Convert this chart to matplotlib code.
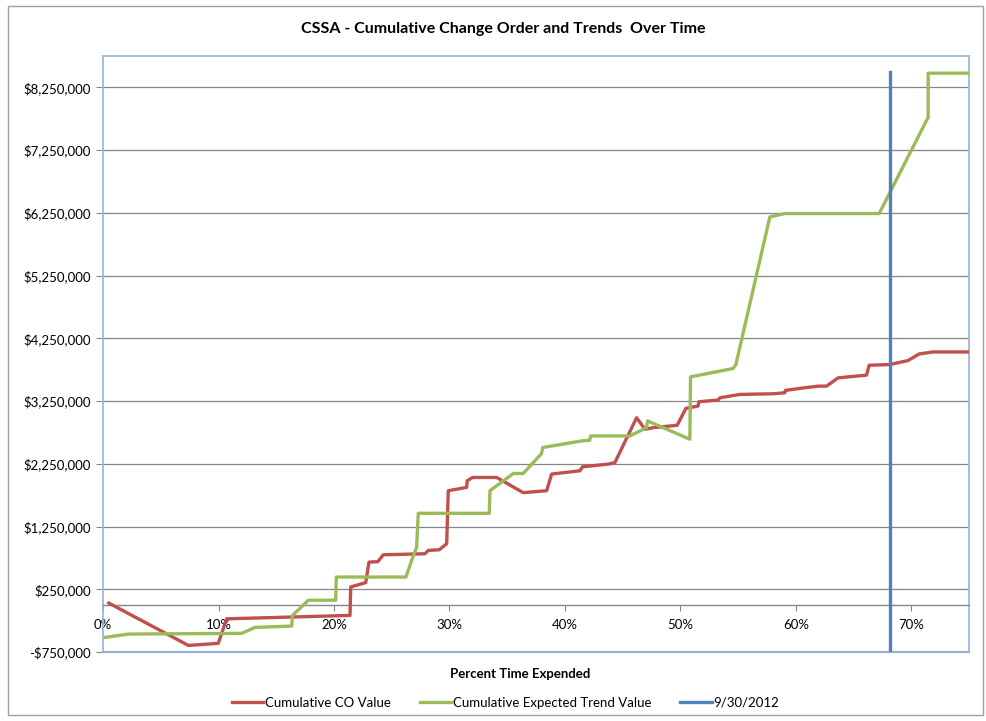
import matplotlib.pyplot as plt
from matplotlib.patches import Rectangle
from matplotlib.ticker import FuncFormatter, MultipleLocator

plt.rcParams['font.family'] = ['Lato', 'DejaVu Sans']

# cumulative change order value vs. percent of time expended
co_pct = [0.005, 0.0739, 0.0998, 0.107, 0.2139, 0.2145, 0.2275, 0.2303, 0.238, 0.2427,
          0.2788, 0.2816, 0.2912, 0.2976, 0.299, 0.3149, 0.3154, 0.3201, 0.3409, 0.3639,
          0.3842, 0.3885, 0.413, 0.4153, 0.4375, 0.4433, 0.4621, 0.4693, 0.4765, 0.4972,
          0.5048, 0.5154, 0.516, 0.5327, 0.5342, 0.5515, 0.5804, 0.5905, 0.591, 0.6035,
          0.6193, 0.6266, 0.6366, 0.6612, 0.6635, 0.6814, 0.6972, 0.7068, 0.7189, 0.75]
co_value = [30000, -645000, -612000, -221000, -167000, 287000, 356000, 683000, 690000, 800000,
            816000, 869000, 880000, 975000, 1821000, 1874000, 1980000, 2032000, 2032000, 1790000,
            1821000, 2086000, 2139000, 2202000, 2245000, 2270000, 2985000, 2800000, 2826000, 2864000,
            3134000, 3171000, 3239000, 3266000, 3302000, 3356000, 3366000, 3382000, 3420000, 3452000,
            3488000, 3488000, 3620000, 3663000, 3821000, 3832000, 3896000, 4001000, 4033000, 4033000]

# cumulative expected trend value
trend_pct = [0.0017, 0.022, 0.12, 0.1316, 0.1634, 0.164, 0.1778, 0.2015, 0.202, 0.2623,
             0.2673, 0.2716, 0.273, 0.3345, 0.3351, 0.3553, 0.3639, 0.3798, 0.3807, 0.4145,
             0.4216, 0.4222, 0.4563, 0.4707, 0.4716, 0.5082, 0.5088, 0.5457, 0.5481, 0.5775,
             0.5905, 0.6722, 0.7146, 0.7146, 0.75]
trend_value = [-517000, -464000, -453000, -358000, -337000, -168000, 75000, 75000, 445000, 445000,
               710000, 921000, 1461000, 1461000, 1821000, 2096000, 2096000, 2413000, 2509000, 2615000,
               2626000, 2694000, 2694000, 2826000, 2933000, 2642000, 3636000, 3769000, 3833000, 6186000,
               6239000, 6239000, 7774000, 8477000, 8477000]

# status date marker
status_pct = [0.6814, 0.6814]
status_value = [-750000, 8500000]

frame_color = '#95B3D7'
grid_color = '#868686'

fig = plt.figure(figsize=(9.87, 7.21), dpi=100)
ax = fig.add_axes([0.1044, 0.0957, 0.8774, 0.8266])

ax.plot(co_pct, co_value, color='#C0504D', lw=2.4, label='Cumulative CO Value', zorder=3)
ax.plot(trend_pct, trend_value, color='#9BBB59', lw=2.4, label='Cumulative Expected Trend Value', zorder=3)
ax.plot(status_pct, status_value, color='#4F81BD', lw=2.4, label='9/30/2012', zorder=4)

ax.set_xlim(0, 0.75)
ax.set_ylim(-750000, 8750000)
ax.yaxis.set_major_locator(MultipleLocator(1000000, offset=250000))
ax.xaxis.set_major_locator(MultipleLocator(0.1))


def money(v, pos):
    if v < 0:
        return '-${:,.0f}'.format(abs(v))
    return '${:,.0f}'.format(v)


ax.yaxis.set_major_formatter(FuncFormatter(money))
ax.xaxis.set_major_formatter(FuncFormatter(lambda v, p: '{:.0f}%'.format(v * 100)))

ax.grid(axis='y', color=grid_color, lw=0.9)
ax.set_axisbelow(True)

# x axis crosses at zero, frame around the plot area
for s in ['left', 'top', 'right']:
    ax.spines[s].set_color(frame_color)
    ax.spines[s].set_linewidth(1.2)
ax.spines['bottom'].set_position(('data', 0))
ax.spines['bottom'].set_color(grid_color)
ax.spines['bottom'].set_linewidth(1.0)
ax.plot([0, 1], [0, 0], transform=ax.transAxes, color=frame_color, lw=1.6, clip_on=False)

ax.tick_params(axis='y', length=5, color=grid_color, labelsize=9.5, pad=4)
ax.tick_params(axis='x', length=4, color=grid_color, labelsize=9.5, pad=6)

fig.text(0.51, 0.96, 'CSSA - Cumulative Change Order and Trends  Over Time',
         ha='center', va='center', fontsize=11.5, fontweight='bold')
fig.text(0.527, 0.065, 'Percent Time Expended', ha='center', va='center',
         fontsize=9.5, fontweight='bold')

fig.legend(loc='center', bbox_to_anchor=(0.512, 0.025), ncol=3, frameon=False,
           fontsize=9.5, handlelength=2.4, columnspacing=2.2, handletextpad=0.1)

fig.patches.append(Rectangle((0.008, 0.008), 0.988, 0.983, transform=fig.transFigure,
                             fill=False, edgecolor='#A0A0A0', lw=1.0))

fig.savefig('out.png', dpi=100)
